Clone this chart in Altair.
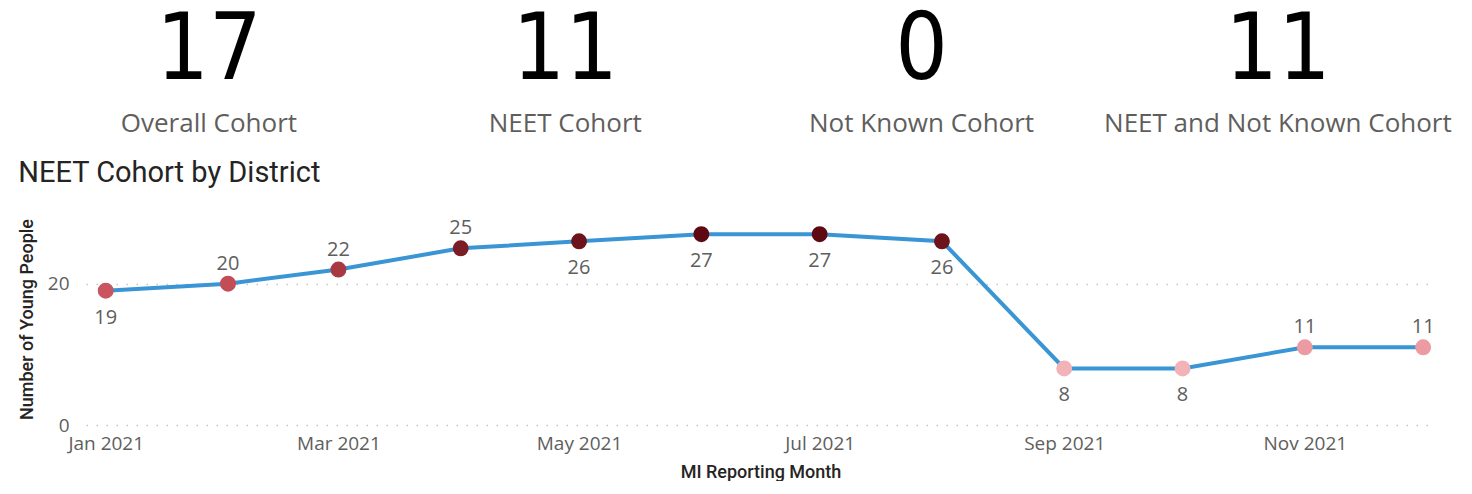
import altair as alt
import pandas as pd

# ---- data ----
months = ["2021-01-01", "2021-02-01", "2021-03-01", "2021-04-01", "2021-05-01", "2021-06-01",
          "2021-07-01", "2021-08-01", "2021-09-01", "2021-10-01", "2021-11-01", "2021-12-01"]
neet = [19, 20, 22, 25, 26, 27, 27, 26, 8, 8, 11, 11]
label_side = ["below", "above", "above", "above", "below", "below",
              "below", "below", "below", "below", "above", "above"]

kpi_values = ["17", "11", "0", "11"]
kpi_labels = ["Overall Cohort", "NEET Cohort", "Not Known Cohort", "NEET and Not Known Cohort"]

BIG_FONT = "Liberation Sans Narrow, DejaVu Sans Condensed, Roboto Condensed, Roboto"
DIN_FONT = "Roboto"
SEGOE = "Open Sans"

# ---- KPI cards ----
kpi_df = pd.DataFrame({"i": list(range(len(kpi_values))), "value": kpi_values, "label": kpi_labels})
kpi_base = alt.Chart(kpi_df).transform_calculate(slot="datum.i + 0.5").encode(
    x=alt.X("slot:Q", scale=alt.Scale(domain=[0.155, 3.997]), axis=None)
)
kpi_nums = kpi_base.mark_text(font=BIG_FONT, fontSize=92, baseline="alphabetic", dy=4,
                              color="#000000").encode(text="value:N")
kpi_labs = kpi_base.mark_text(font=SEGOE, fontSize=26, baseline="alphabetic", dy=57,
                              color="#605E5C").encode(text="label:N")
kpi = alt.layer(kpi_nums, kpi_labs).properties(width=1369, height=140)

# ---- line chart ----
df = pd.DataFrame({"month": months, "neet": neet, "side": label_side})

x_enc = alt.X(
    "month:T",
    scale=alt.Scale(type="utc",
                    domain=[alt.DateTime(year=2020, month=12, date=27, utc=True),
                            alt.DateTime(year=2021, month=12, date=4, utc=True)]),
    axis=alt.Axis(format="%b %Y", tickCount={"interval": "month", "step": 2},
                  title="MI Reporting Month", grid=False, ticks=False, domain=False,
                  labelPadding=9, labelFontSize=19, labelColor="#605E5C", labelFont=SEGOE,
                  titleFont=DIN_FONT, titleFontSize=18, titleFontWeight=500,
                  titleColor="#252423", titlePadding=10),
)
y_enc = alt.Y(
    "neet:Q",
    scale=alt.Scale(domain=[0, 30]),
    axis=alt.Axis(values=[0, 20], title="Number of Young People", grid=True,
                  gridDash=[1.5, 8.5], gridColor="#C8C6C4", gridWidth=1.5,
                  domain=False, ticks=False, labelFontSize=19, labelColor="#605E5C",
                  labelFont=SEGOE, labelPadding=17, titleFont=DIN_FONT, titleFontSize=18,
                  titleFontWeight=500, titleColor="#252423", titlePadding=11),
)

base = alt.Chart(df).encode(x=x_enc, y=y_enc)
line = base.mark_line(color="#3A95D4", strokeWidth=4)
points = base.mark_circle(size=254, opacity=1).encode(
    color=alt.Color("neet:Q",
                    scale=alt.Scale(domain=[8, 11, 20, 27],
                                    range=["#F2B3B8", "#EB9BA1", "#C44C57", "#5E0812"]),
                    legend=None)
)
lab_above = base.transform_filter("datum.side == 'above'").mark_text(
    font=SEGOE, fontSize=20, color="#605E5C", baseline="middle", dy=-20).encode(text="neet:Q")
lab_below = base.transform_filter("datum.side == 'below'").mark_text(
    font=SEGOE, fontSize=20, color="#605E5C", baseline="middle", dy=27).encode(text="neet:Q")

line_chart = alt.layer(line, points, lab_above, lab_below).properties(
    width=1349, height=212,
    title=alt.Title("NEET Cohort by District", anchor="start", frame="bounds",
                    font=DIN_FONT, fontSize=29, fontWeight="normal", color="#252423",
                    offset=25),
)

chart = alt.vconcat(kpi, line_chart, spacing=14).properties(
    padding={"left": 10, "top": -3, "right": 0, "bottom": 0}
).configure_view(stroke=None)

chart.save("out.html", embed_options={"renderer": "svg", "actions": False})
